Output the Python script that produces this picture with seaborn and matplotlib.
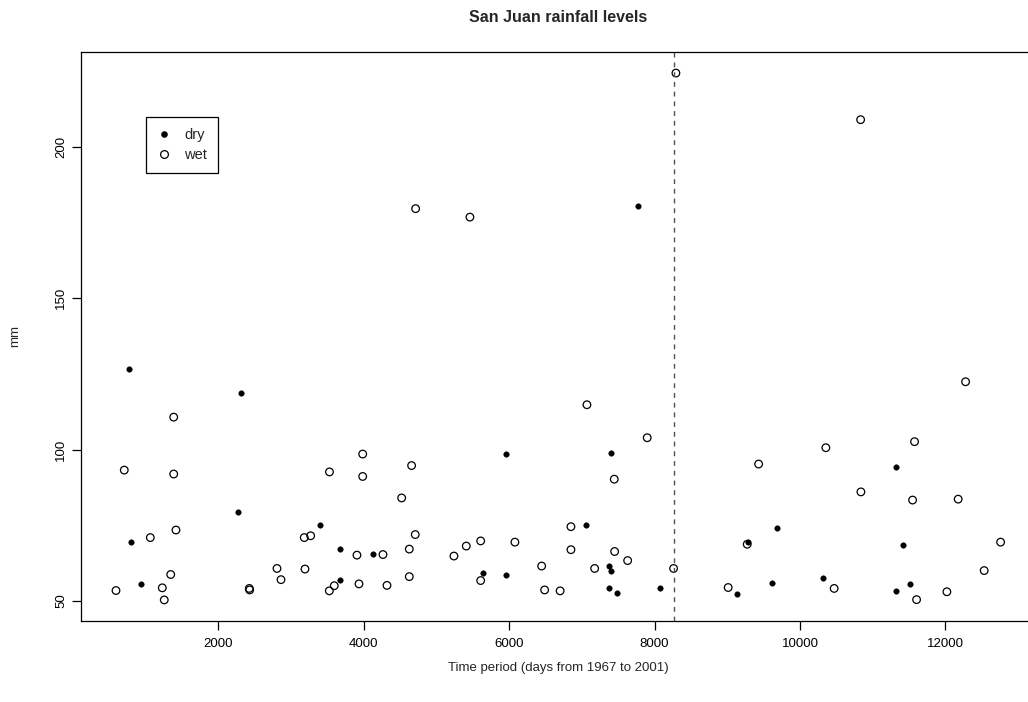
import matplotlib
matplotlib.use("Agg")
import matplotlib.pyplot as plt
from matplotlib.lines import Line2D
import seaborn as sns
import pandas as pd

# ---- data ----
dry_x = [765, 796, 934, 2264, 2309, 3396, 3676, 3676, 4121, 5634, 5955, 5955,
         7059, 7376, 7376, 7403, 7403, 7477, 7770, 8077, 9132, 9283, 9609, 9682,
         10319, 11319, 11319, 11420, 11508]
dry_y = [126.7, 69.6, 55.4, 79.4, 118.8, 75.2, 67.1, 57.0, 65.5, 59.3, 98.5, 58.7,
         75.2, 61.6, 54.4, 98.8, 59.7, 52.7, 180.4, 54.4, 52.4, 69.3, 56.0, 74.2,
         57.5, 94.2, 53.4, 68.4, 55.7]

wet_x = [590, 704, 1062, 1227, 1254, 1343, 1384, 1384, 1415, 2424, 2429, 2805,
         2860, 3180, 3190, 3268, 3527, 3525, 3593, 3905, 3933, 3984, 3984, 4263,
         4318, 4520, 4625, 4625, 4657, 4707, 4712, 5239, 5409, 5459, 5607, 5607,
         6078, 6446, 6487, 6700, 6849, 6849, 7069, 7175, 7445, 7450, 7629, 7898,
         8261, 8293, 9012, 9274, 9431, 10356, 10470, 10834, 10838, 11549, 11576,
         11604, 12021, 12176, 12278, 12534, 12760]
wet_y = [53.4, 93.2, 70.9, 54.3, 50.3, 58.7, 110.7, 91.9, 73.4, 54.1, 53.6, 60.7,
         57.0, 70.9, 60.5, 71.5, 92.6, 53.3, 55.0, 65.1, 55.6, 98.5, 91.1, 65.3,
         55.1, 84.0, 67.1, 58.0, 94.7, 71.9, 179.6, 64.8, 68.1, 176.8, 69.8, 56.7,
         69.4, 61.5, 53.6, 53.3, 74.5, 66.9, 114.8, 60.7, 90.2, 66.3, 63.3, 103.9,
         60.7, 224.4, 54.4, 68.7, 95.2, 100.6, 54.1, 209.0, 86.0, 83.3, 102.6,
         50.4, 53.0, 83.6, 122.4, 60.0, 69.4]

cutoff = 8265
x_ticks = [2000, 4000, 6000, 8000, 10000, 12000]
y_ticks = [50, 100, 150, 200]
legend_labels = ["dry", "wet"]
title = "San Juan rainfall levels"
x_label = "Time period (days from 1967 to 2001)"
y_label = "mm"

# ---- style ----
sns.set_style("white")
plt.rcParams["font.family"] = ["Liberation Sans", "DejaVu Sans"]

W, H = 1028, 702
fig = plt.figure(figsize=(W / 100, H / 100), dpi=100)
ax_l, ax_r, ax_t, ax_b = 80.6, 1036.0, 52.0, 621.0
ax = fig.add_axes([ax_l / W, 1 - ax_b / H, (ax_r - ax_l) / W, (ax_b - ax_t) / H])

dry_df = pd.DataFrame({"x": dry_x, "y": dry_y})
wet_df = pd.DataFrame({"x": wet_x, "y": wet_y})

sns.scatterplot(data=dry_df, x="x", y="y", ax=ax, s=16, color="black",
                edgecolor="black", linewidth=0.3, legend=False)
sns.scatterplot(data=wet_df, x="x", y="y", ax=ax, s=30, color="black",
                edgecolor="black", linewidth=0.9, legend=False)
ax.collections[-1].set_facecolor("none")

ax.axvline(cutoff, color="#505050", linewidth=1.0, linestyle=(0, (3.5, 3.5)))

# R style limits: 4% padding
xmin, xmax = min(dry_x + wet_x), max(dry_x + wet_x)
ymin, ymax = min(dry_y + wet_y), max(dry_y + wet_y)
xr, yr = xmax - xmin, ymax - ymin
ax.set_xlim(xmin - 0.04 * xr, xmax + 0.04 * xr)
ax.set_ylim(ymin - 0.04 * yr, ymax + 0.04 * yr)

ax.set_xticks(x_ticks)
ax.set_xticklabels([str(v) for v in x_ticks])
ax.set_yticks(y_ticks)
ax.set_yticklabels([str(v) for v in y_ticks])
ax.tick_params(axis="both", direction="out", length=6.5, width=0.9,
               color="black", labelsize=9.5, labelcolor="black", pad=6,
               bottom=True, left=True)
ax.tick_params(axis="y", pad=3)
for lab in ax.get_yticklabels():
    lab.set_rotation(90)
    lab.set_va("center")
    lab.set_ha("right")
ax.set_xlabel("")
ax.set_ylabel("")

for sp in ax.spines.values():
    sp.set_visible(True)
    sp.set_color("black")
    sp.set_linewidth(0.9)

handles = [
    Line2D([], [], linestyle="none", marker="o", markersize=4.4,
           markerfacecolor="black", markeredgecolor="black", markeredgewidth=0.3),
    Line2D([], [], linestyle="none", marker="o", markersize=5.6,
           markerfacecolor="none", markeredgecolor="black", markeredgewidth=0.9),
]
leg = ax.legend(handles, legend_labels, loc="upper left",
                bbox_to_anchor=((146.3 - ax_l) / (ax_r - ax_l),
                                1 - (116.7 - ax_t) / (ax_b - ax_t)),
                borderaxespad=0, frameon=True, fancybox=False, fontsize=10.5,
                handlelength=0.9, handletextpad=0.95, labelspacing=0.45,
                borderpad=0.75, framealpha=1)
leg.get_frame().set_edgecolor("black")
leg.get_frame().set_linewidth(0.9)

cx = (ax_l + ax_r) / 2 / W
fig.text(cx, 1 - 18 / H, title, ha="center", va="center",
         fontsize=11.5, fontweight="bold")
fig.text(cx, 1 - 668 / H, x_label, ha="center", va="center", fontsize=9.5)
fig.text(15 / W, 1 - 336 / H, y_label, ha="center", va="center",
         fontsize=9.5, rotation=90)

fig.savefig("out.png", dpi=100)
